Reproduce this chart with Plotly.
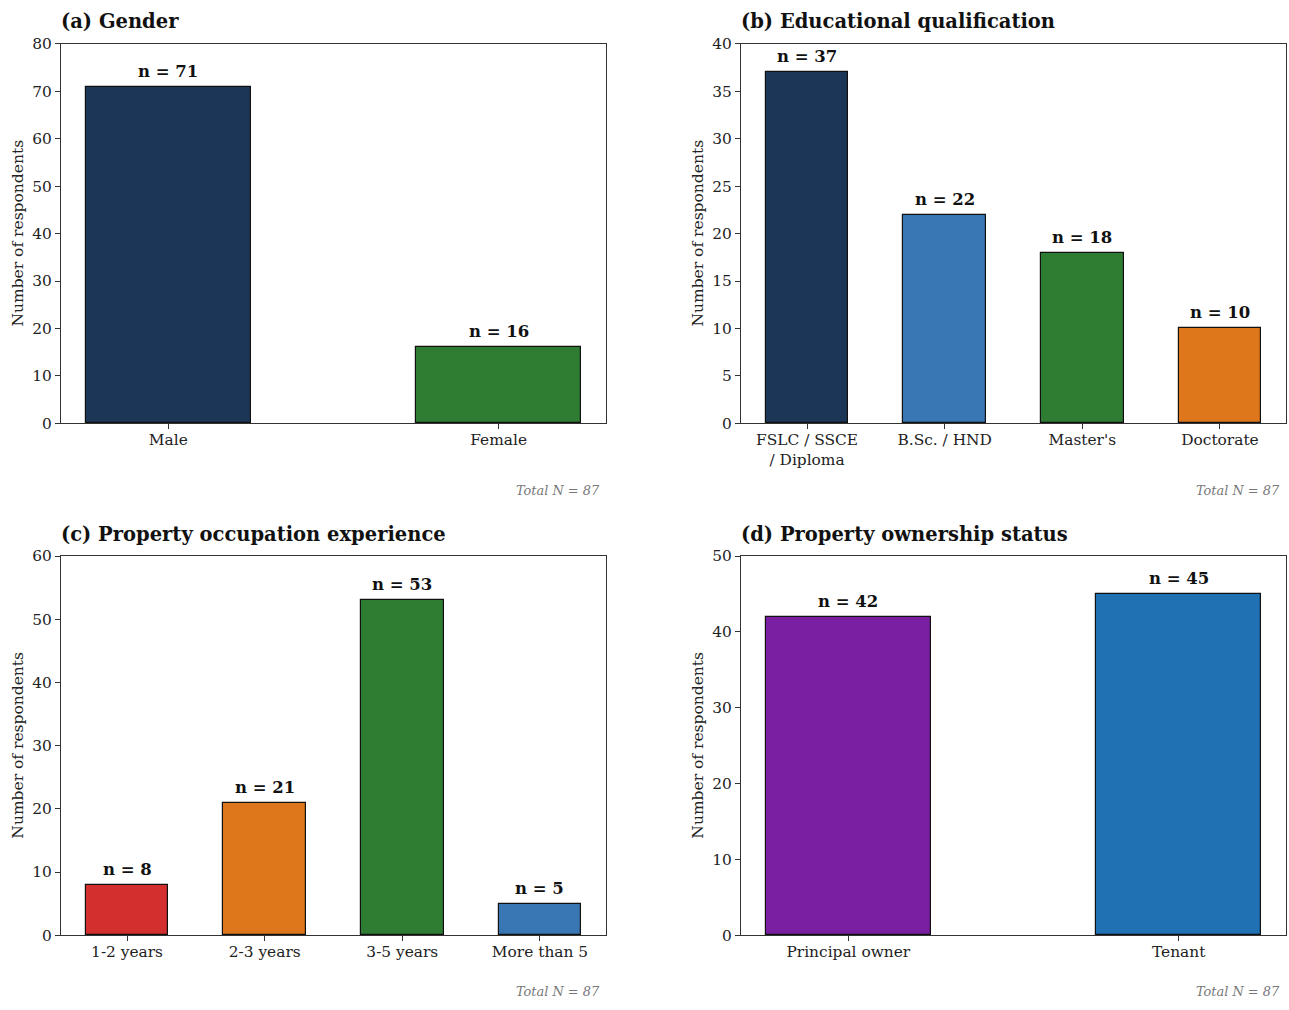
import plotly.graph_objects as go

# Survey response counts for the four respondent profile panels
gender_cats = ["Male", "Female"]
gender_vals = [71, 16]

edu_cats = ["FSLC / SSCE<br>/ Diploma", "B.Sc. / HND", "Master's", "Doctorate"]
edu_vals = [37, 22, 18, 10]

exp_cats = ["1-2 years", "2-3 years", "3-5 years", "More than 5"]
exp_vals = [8, 21, 53, 5]

own_cats = ["Principal owner", "Tenant"]
own_vals = [42, 45]

total_n = 87

W, H = 1289, 1010
FONT = "DejaVu Serif"
AXIS_COLOR = "#333333"
V_OFFSET, V_SPAN = 8.0, 993.8


def px(x):
    return x / W


def py(y):
    return 1 - (y - V_OFFSET) / V_SPAN


# Plot-area boxes in pixels: (left, right, top, bottom)
panels = [
    dict(title="(a) Gender", cats=gender_cats, vals=gender_vals,
         colors=["#1c3657", "#2e7d32"], width=0.5, ymax=80, dtick=10,
         box=(61, 606, 43, 423)),
    dict(title="(b) Educational qualification", cats=edu_cats, vals=edu_vals,
         colors=["#1c3657", "#3877b4", "#2e7d32", "#de771b"], width=0.6,
         ymax=40, dtick=5, box=(741, 1286, 43, 423)),
    dict(title="(c) Property occupation experience", cats=exp_cats, vals=exp_vals,
         colors=["#d32f2f", "#de771b", "#2e7d32", "#3877b4"], width=0.6,
         ymax=60, dtick=10, box=(61, 606, 556, 936)),
    dict(title="(d) Property ownership status", cats=own_cats, vals=own_vals,
         colors=["#7b1fa2", "#1f71b3"], width=0.5, ymax=50, dtick=10,
         box=(741, 1286, 556, 936)),
]

fig = go.Figure()
annotations = []
layout_axes = {}

for i, p in enumerate(panels, start=1):
    xa = "x" if i == 1 else f"x{i}"
    ya = "y" if i == 1 else f"y{i}"
    x0, x1, y0, y1 = p["box"]
    n = len(p["cats"])
    half = p["width"] / 2
    span = (n - 1) + p["width"]
    margin = span * 0.05
    xrange = [-half - margin, n - 1 + half + margin]

    fig.add_trace(go.Bar(
        x=list(range(n)), y=p["vals"], width=p["width"],
        marker=dict(color=p["colors"], line=dict(color="#111111", width=1.2)),
        xaxis=xa, yaxis=ya, showlegend=False, hoverinfo="y",
    ))

    axis_common = dict(
        showline=True, linecolor=AXIS_COLOR, linewidth=1.2, mirror=True,
        ticks="outside", ticklen=5, tickwidth=1, tickcolor=AXIS_COLOR,
        showgrid=False, zeroline=False,
        tickfont=dict(family=FONT, size=15.4, color="#222222"),
    )
    layout_axes[("xaxis" if i == 1 else f"xaxis{i}")] = dict(
        axis_common, domain=[px(x0), px(x1)], anchor=ya,
        range=xrange, tickmode="array", tickvals=list(range(n)),
        ticktext=p["cats"], ticklabelstandoff=-3,
    )
    layout_axes[("yaxis" if i == 1 else f"yaxis{i}")] = dict(
        axis_common, domain=[py(y1), py(y0)], anchor=xa,
        range=[0, p["ymax"]], dtick=p["dtick"],
    )

    # Panel title
    annotations.append(dict(
        text=f"<b>{p['title']}</b>", xref="paper", yref="paper",
        x=px(x0 - 2), y=py(y0 - 22), xanchor="left", yanchor="middle",
        showarrow=False, font=dict(family=FONT, size=19.5, color="#111111"),
    ))
    # Y-axis title
    annotations.append(dict(
        text="Number of respondents", xref="paper", yref="paper",
        x=px(x0 - 43), y=py((y0 + y1) / 2), xanchor="center", yanchor="middle",
        textangle=-90, showarrow=False,
        font=dict(family=FONT, size=15.5, color="#222222"),
    ))
    # Total count note below each panel
    note_y = py(y1 + 67)
    bottom_row = note_y < 0.02
    annotations.append(dict(
        text="<i>Total N = %d</i>" % total_n, xref="paper", yref="paper",
        x=px(x1 - 4), y=0 if bottom_row else note_y, xanchor="right",
        yanchor="bottom" if bottom_row else "middle",
        showarrow=False, font=dict(family=FONT, size=12.9, color="#777777"),
    ))
    # Value labels above bars
    for j, v in enumerate(p["vals"]):
        annotations.append(dict(
            text=f"<b>n = {v}</b>", xref=xa, yref=ya, x=j, y=v,
            xanchor="center", yanchor="bottom", yshift=4, showarrow=False,
            font=dict(family=FONT, size=16.5, color="#111111"),
        ))

fig.update_layout(
    width=W, height=H,
    margin=dict(l=0, r=0, t=0, b=0),
    paper_bgcolor="white", plot_bgcolor="white",
    font=dict(family=FONT),
    annotations=annotations,
    bargap=0,
    **layout_axes,
)

fig.write_html("out.html")
